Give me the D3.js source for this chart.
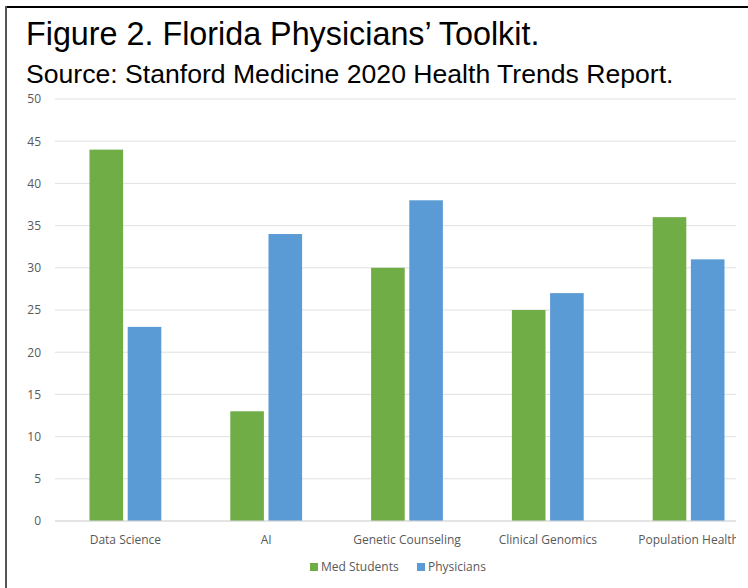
<!DOCTYPE html>
<html>
<head>
<meta charset="utf-8">
<script src="https://cdnjs.cloudflare.com/ajax/libs/d3/7.8.5/d3.min.js"></script>
<style>
  html, body { margin: 0; padding: 0; background: #fff; overflow: hidden; }
  svg { display: block; }
</style>
</head>
<body>
<svg id="chart"></svg>
<script>
// values
const categories = ['Data Science', 'AI', 'Genetic Counseling', 'Clinical Genomics', 'Population Health'];
const seriesNames = ['Med Students', 'Physicians'];
const medStudents = [44, 13, 30, 25, 36];
const physicians = [23, 34, 38, 27, 31];
const yTicks = [0, 5, 10, 15, 20, 25, 30, 35, 40, 45, 50];
const colors = ['#70ad47', '#5b9bd5'];

const W = 748, H = 588;
const margin = { top: 99, right: -11, bottom: 67, left: 55 };
const clipRight = 736;

const svg = d3.select('#chart').attr('width', W).attr('height', H);

// frame
svg.append('line')
  .attr('x1', 5).attr('x2', W).attr('y1', 7).attr('y2', 7)
  .attr('stroke', '#000').attr('stroke-width', 2);
svg.append('line')
  .attr('x1', 6).attr('x2', 6).attr('y1', 6).attr('y2', H)
  .attr('stroke', '#555').attr('stroke-width', 2);

// titles
svg.append('text')
  .attr('x', 26).attr('y', 45)
  .attr('font-family', 'Liberation Sans, Arial, sans-serif')
  .attr('font-size', 32.3)
  .attr('fill', '#000')
  .text('Figure 2. Florida Physicians’ Toolkit.');
svg.append('text')
  .attr('x', 26).attr('y', 83)
  .attr('font-family', 'Liberation Sans, Arial, sans-serif')
  .attr('font-size', 26.6)
  .attr('fill', '#000')
  .text('Source: Stanford Medicine 2020 Health Trends Report.');

const x = d3.scaleBand()
  .domain(categories)
  .range([margin.left, W - margin.right])
  .paddingInner(0.49)
  .paddingOuter(0.245);

const xs = d3.scaleBand()
  .domain(seriesNames)
  .range([0, x.bandwidth()])
  .paddingInner(0.12);

const y = d3.scaleLinear()
  .domain([0, 50])
  .range([H - margin.bottom, margin.top]);

svg.append('clipPath').attr('id', 'clip')
  .append('rect').attr('x', 0).attr('y', 0).attr('width', clipRight).attr('height', H);

const plot = svg.append('g').attr('clip-path', 'url(#clip)');

// gridlines
plot.append('g')
  .selectAll('line')
  .data(yTicks)
  .join('line')
  .attr('x1', margin.left).attr('x2', clipRight)
  .attr('y1', d => y(d)).attr('y2', d => y(d))
  .attr('stroke', '#e0e0e0').attr('stroke-width', 1);

// y axis labels
const yAxis = d3.axisLeft(y).tickValues(yTicks).tickSize(0).tickPadding(14);
const ya = svg.append('g')
  .attr('transform', `translate(${margin.left},0)`)
  .call(yAxis);
ya.select('.domain').remove();
ya.selectAll('text')
  .attr('font-family', 'Open Sans, sans-serif')
  .attr('font-size', 12)
  .attr('fill', '#595959');

// bars
const rows = categories.map((c, i) => ({ cat: c, vals: [medStudents[i], physicians[i]] }));
plot.append('g')
  .selectAll('g')
  .data(rows)
  .join('g')
  .attr('transform', d => `translate(${x(d.cat)},0)`)
  .selectAll('rect')
  .data(d => d.vals.map((v, j) => ({ name: seriesNames[j], v, j })))
  .join('rect')
  .attr('x', d => xs(d.name))
  .attr('width', xs.bandwidth())
  .attr('y', d => y(d.v))
  .attr('height', d => y(0) - y(d.v))
  .attr('fill', d => colors[d.j]);

// baseline redraw
plot.append('line')
  .attr('x1', margin.left).attr('x2', clipRight)
  .attr('y1', y(0)).attr('y2', y(0))
  .attr('stroke', '#d9d9d9').attr('stroke-width', 1);

// x axis labels
const xAxis = d3.axisBottom(x).tickSize(0).tickPadding(14);
const xa = plot.append('g')
  .attr('transform', `translate(0,${y(0)})`)
  .call(xAxis);
xa.select('.domain').remove();
xa.selectAll('text')
  .attr('font-family', 'Open Sans, sans-serif')
  .attr('font-size', 12)
  .attr('fill', '#595959');

// legend
const legend = svg.append('g');
const legendX = [310, 417];
seriesNames.forEach((name, i) => {
  legend.append('rect')
    .attr('x', legendX[i]).attr('y', 563)
    .attr('width', 8).attr('height', 8)
    .attr('fill', colors[i]);
  legend.append('text')
    .attr('x', legendX[i] + 11).attr('y', 567)
    .attr('dy', '0.35em')
    .attr('font-family', 'Open Sans, sans-serif')
    .attr('font-size', 12)
    .attr('fill', '#595959')
    .text(name);
});
</script>
</body>
</html>
